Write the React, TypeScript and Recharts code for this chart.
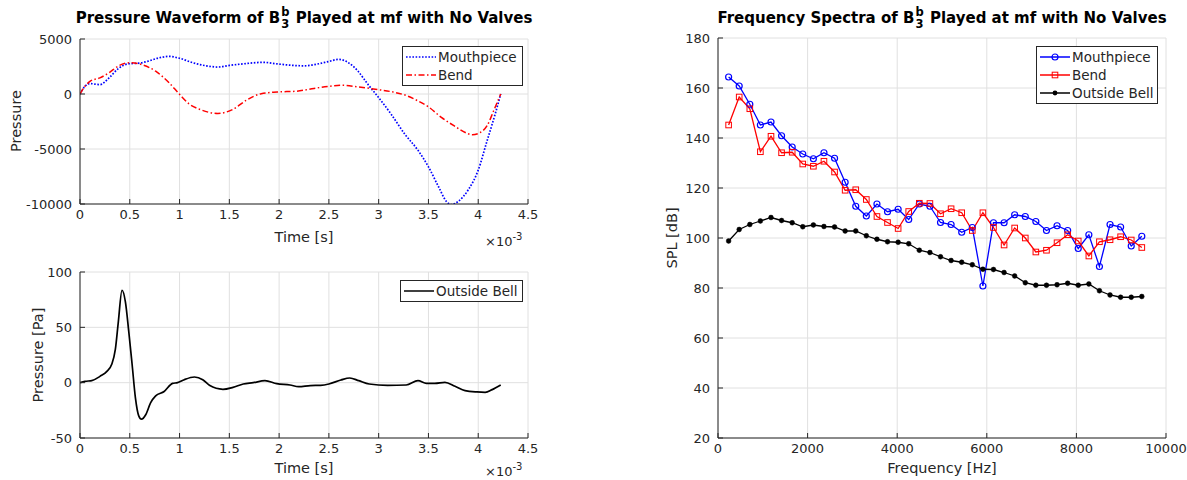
import React from 'react';
import { LineChart, Line, XAxis, YAxis, CartesianGrid } from 'recharts';

const FONT = '"DejaVu Sans", Verdana, sans-serif';
const TXT = '#262626';
const GRID = '#e0e0e0';
const BLUE = '#0000ff';
const RED = '#ff0000';
const BLACK = '#000000';

// ---------- waveform (time in ms, axis shows x10^-3 s) ----------
const mouthpieceTime = [0, 0.05, 0.1, 0.2, 0.29, 0.39, 0.49, 0.59, 0.69, 0.79, 0.895, 1.0, 1.13, 1.27, 1.385, 1.5, 1.64, 1.84, 1.98, 2.11, 2.25, 2.4, 2.5, 2.6, 2.686, 2.79, 2.89, 3.0, 3.125, 3.26, 3.395, 3.5, 3.6, 3.68, 3.73, 3.8, 3.9, 4.0, 4.09, 4.17, 4.226];
const mouthpiecePressure = [0, 700, 950, 850, 1450, 2350, 2750, 2800, 3000, 3280, 3420, 3250, 2850, 2560, 2450, 2600, 2740, 2880, 2740, 2620, 2560, 2750, 2960, 3150, 2900, 2100, 900, -330, -1830, -3620, -5120, -6620, -8410, -9760, -10060, -9760, -8710, -6920, -4220, -1830, 0];

const bendTime = [0, 0.05, 0.1, 0.2, 0.29, 0.39, 0.51, 0.625, 0.76, 0.895, 1.0, 1.1, 1.2, 1.385, 1.54, 1.67, 1.82, 1.98, 2.18, 2.35, 2.5, 2.635, 2.79, 3.0, 3.16, 3.29, 3.395, 3.5, 3.63, 3.77, 3.87, 3.94, 4.02, 4.09, 4.155, 4.226];
const bendPressure = [0, 700, 1150, 1470, 1920, 2570, 2850, 2660, 2070, 1020, -30, -930, -1380, -1770, -1380, -570, 30, 180, 260, 510, 690, 800, 650, 390, 150, -180, -630, -1170, -2130, -2960, -3500, -3710, -3500, -2870, -1530, 0];

const bellTime = [0, 0.05, 0.118, 0.2, 0.27, 0.32, 0.355, 0.385, 0.422, 0.456, 0.49, 0.524, 0.557, 0.59, 0.618, 0.66, 0.71, 0.76, 0.845, 0.93, 0.98, 1.047, 1.15, 1.233, 1.3, 1.436, 1.537, 1.64, 1.74, 1.858, 1.976, 2.11, 2.196, 2.314, 2.416, 2.5, 2.62, 2.71, 2.8, 2.905, 3.09, 3.277, 3.395, 3.48, 3.564, 3.666, 3.767, 3.868, 3.986, 4.07, 4.14, 4.226];
const bellPressure = [0, 1.2, 1.8, 5.7, 10.2, 16.8, 30, 55, 83.5, 73, 46, 16, -14, -30, -33, -29, -18, -12, -8, -0.6, 0, 2.7, 5.1, 2.7, -2.4, -6, -4.2, -1.2, 0, 1.8, -0.9, -2.1, -3.6, -2.6, -2.4, -1.2, 2.4, 4.2, 1.8, -1.2, -2.4, -2.1, 1.8, -0.6, -0.6, 0.3, -3.3, -7.2, -8.4, -8.7, -6.3, -2.1];

const timeTicks = [0, 0.5, 1, 1.5, 2, 2.5, 3, 3.5, 4, 4.5];
const waveTicks = [-10000, -5000, 0, 5000];
const bellTicks = [-50, 0, 50, 100];

// ---------- spectra ----------
const harmonicFreq = [237, 473, 710, 946, 1183, 1419, 1656, 1892, 2129, 2365, 2602, 2838, 3075, 3311, 3548, 3784, 4021, 4257, 4494, 4730, 4967, 5203, 5440, 5676, 5913, 6149, 6386, 6622, 6859, 7095, 7332, 7568, 7805, 8041, 8278, 8514, 8751, 8987, 9224, 9460];
const mouthpieceSPL = [164.4, 160.8, 153.5, 145.2, 146.4, 140.9, 136.4, 133.6, 131.7, 134.1, 131.9, 122.3, 112.7, 108.8, 113.6, 110.5, 111.5, 107.4, 113.6, 112.7, 106.2, 105.4, 102.3, 104.2, 80.8, 106.1, 106.1, 109.3, 108.6, 106.6, 103.0, 104.9, 103.0, 95.8, 101.3, 88.6, 105.4, 104.4, 96.8, 100.7];
const bendSPL = [145.2, 156.4, 151.7, 134.5, 140.7, 134.1, 134.3, 129.6, 128.7, 130.7, 126.4, 119.1, 119.3, 115.4, 108.6, 106.2, 103.8, 110.6, 113.9, 113.8, 109.7, 111.7, 110.1, 103.0, 110.1, 104.2, 97.2, 104.0, 100.0, 94.4, 95.1, 98.1, 101.3, 98.8, 92.8, 98.5, 99.3, 100.5, 99.2, 96.2];
const outsideBellSPL = [98.8, 103.4, 105.4, 106.8, 108.2, 107.0, 106.1, 104.5, 105.2, 104.6, 104.4, 102.8, 102.8, 100.9, 99.5, 98.5, 98.3, 97.7, 95.1, 94.2, 92.5, 91.0, 90.3, 89.3, 87.5, 87.4, 86.2, 84.8, 82.1, 81.1, 81.1, 81.3, 81.9, 81.1, 81.6, 78.9, 77.2, 76.3, 76.3, 76.6];
const freqTicks = [0, 2000, 4000, 6000, 8000, 10000];
const splTicks = [20, 40, 60, 80, 100, 120, 140, 160, 180];

const mouthpieceData = mouthpieceTime.map((t, i) => ({ t, p: mouthpiecePressure[i] }));
const bendData = bendTime.map((t, i) => ({ t, p: bendPressure[i] }));
const bellData = bellTime.map((t, i) => ({ t, p: bellPressure[i] }));
const spectrumData = harmonicFreq.map((f, i) => ({ f, mp: mouthpieceSPL[i], bend: bendSPL[i], bell: outsideBellSPL[i] }));

const tickStyle = { fontFamily: FONT, fontSize: 13, fill: TXT };
const axisLine = { stroke: TXT, strokeWidth: 1 };
const tickLine = { stroke: TXT, strokeWidth: 1 };

const abs = (left: number, top: number): React.CSSProperties => ({ position: 'absolute', left, top });

function Script() {
  return (
    <span style={{ display: 'inline-block', verticalAlign: '-5px', fontSize: 11.5, lineHeight: '12px', marginLeft: 1, marginRight: 1 }}>
      <span style={{ display: 'block' }}>b</span>
      <span style={{ display: 'block' }}>3</span>
    </span>
  );
}

function Title({ cx, text1, text2 }: { cx: number; text1: string; text2: string }) {
  return (
    <div style={{ position: 'absolute', left: cx - 300, width: 600, top: 6, textAlign: 'center', fontFamily: FONT, fontWeight: 'bold', fontSize: 15, color: '#000', whiteSpace: 'nowrap', lineHeight: '24px' }}>
      {text1}<Script />{text2}
    </div>
  );
}

function AxisLabel({ cx, cy, text, rotate }: { cx: number; cy: number; text: string; rotate?: boolean }) {
  return (
    <div style={{ position: 'absolute', left: cx, top: cy, transform: `translate(-50%, -50%)${rotate ? ' rotate(-90deg)' : ''}`, fontFamily: FONT, fontSize: 14.5, color: TXT, whiteSpace: 'nowrap', lineHeight: '18px' }}>
      {text}
    </div>
  );
}

function Exponent({ right, top }: { right: number; top: number }) {
  return (
    <div style={{ position: 'absolute', left: right - 44, top, fontFamily: FONT, fontSize: 13, color: TXT, whiteSpace: 'nowrap', lineHeight: '16px' }}>
      ×10<span style={{ position: 'relative', top: -6, fontSize: 10 }}>-3</span>
    </div>
  );
}

type LegendItem = { label: string; color: string; dash?: string; marker?: 'circle' | 'square' | 'dot' };

function LegendBox({ left, top, width, items }: { left: number; top: number; width: number; items: LegendItem[] }) {
  return (
    <div style={{ position: 'absolute', left, top, width, border: '1px solid #262626', background: '#fff', padding: '1px 0', fontFamily: FONT, fontSize: 13.5, color: TXT }}>
      {items.map((it) => (
        <div key={it.label} style={{ display: 'flex', alignItems: 'center', height: 18 }}>
          <svg width={32} height={12} style={{ marginLeft: 2, marginRight: 1 }}>
            <line x1={1} y1={6} x2={31} y2={6} stroke={it.color} strokeWidth={1.5} strokeDasharray={it.dash} />
            {it.marker === 'circle' && <circle cx={16} cy={6} r={3} fill="none" stroke={it.color} strokeWidth={1.2} />}
            {it.marker === 'square' && <rect x={13.2} y={3.2} width={5.6} height={5.6} fill="none" stroke={it.color} strokeWidth={1} />}
            {it.marker === 'dot' && <circle cx={16} cy={6} r={2.4} fill={it.color} />}
          </svg>
          <span>{it.label}</span>
        </div>
      ))}
    </div>
  );
}

const squareDot = (props: any) => {
  const { cx, cy, index } = props;
  if (cx == null || cy == null) return <g key={`s-${index}`} />;
  return <rect key={`s-${index}`} x={cx - 2.8} y={cy - 2.8} width={5.6} height={5.6} fill="none" stroke={RED} strokeWidth={1} />;
};

export default function App() {
  return (
    <div style={{ position: 'absolute', left: 0, top: 0, width: 1187, height: 480, background: '#fff', overflow: 'hidden' }}>
      {/* Top-left: pressure waveform */}
      <div style={abs(0, 0)}>
        <LineChart width={560} height={250} margin={{ top: 39, right: 32, left: 20, bottom: 0 }}>
          <CartesianGrid stroke={GRID} strokeWidth={1} />
          <XAxis type="number" dataKey="t" domain={[0, 4.5]} ticks={timeTicks} allowDataOverflow height={46}
            tick={tickStyle} axisLine={axisLine} tickLine={tickLine} tickSize={-5} tickMargin={11} interval={0} />
          <YAxis type="number" domain={[-10000, 5000]} ticks={waveTicks} allowDataOverflow width={60}
            tick={tickStyle} axisLine={axisLine} tickLine={tickLine} tickSize={-5} tickMargin={13} interval={0} />
          <Line data={mouthpieceData} dataKey="p" type="monotone" stroke={BLUE} strokeWidth={1.7} strokeDasharray="1.6 1.6" dot={false} isAnimationActive={false} name="Mouthpiece" />
          <Line data={bendData} dataKey="p" type="monotone" stroke={RED} strokeWidth={1.5} strokeDasharray="6 2.5 1.5 2.5" dot={false} isAnimationActive={false} name="Bend" />
        </LineChart>
      </div>

      {/* Bottom-left: outside bell waveform */}
      <div style={abs(0, 240)}>
        <LineChart width={560} height={240} margin={{ top: 32, right: 32, left: 20, bottom: 0 }}>
          <CartesianGrid stroke={GRID} strokeWidth={1} />
          <XAxis type="number" dataKey="t" domain={[0, 4.5]} ticks={timeTicks} allowDataOverflow height={42}
            tick={tickStyle} axisLine={axisLine} tickLine={tickLine} tickSize={-5} tickMargin={11} interval={0} />
          <YAxis type="number" domain={[-50, 100]} ticks={bellTicks} allowDataOverflow width={60}
            tick={tickStyle} axisLine={axisLine} tickLine={tickLine} tickSize={-5} tickMargin={13} interval={0} />
          <Line data={bellData} dataKey="p" type="monotone" stroke={BLACK} strokeWidth={1.7} dot={false} isAnimationActive={false} name="Outside Bell" />
        </LineChart>
      </div>

      {/* Right: spectra */}
      <div style={abs(600, 0)}>
        <LineChart width={587} height={480} data={spectrumData} margin={{ top: 38, right: 21, left: 58, bottom: 0 }}>
          <CartesianGrid stroke={GRID} strokeWidth={1} />
          <XAxis type="number" dataKey="f" domain={[0, 10000]} ticks={freqTicks} allowDataOverflow height={42}
            tick={tickStyle} axisLine={axisLine} tickLine={tickLine} tickSize={-5} tickMargin={11} interval={0} />
          <YAxis type="number" domain={[20, 180]} ticks={splTicks} allowDataOverflow width={60}
            tick={tickStyle} axisLine={axisLine} tickLine={tickLine} tickSize={-5} tickMargin={13} interval={0} />
          <Line dataKey="mp" type="linear" stroke={BLUE} strokeWidth={1.3} dot={{ r: 3, fill: 'none', stroke: BLUE, strokeWidth: 1.2 }} isAnimationActive={false} name="Mouthpiece" />
          <Line dataKey="bend" type="linear" stroke={RED} strokeWidth={1.3} dot={squareDot} isAnimationActive={false} name="Bend" />
          <Line dataKey="bell" type="linear" stroke={BLACK} strokeWidth={1.3} dot={{ r: 2.4, fill: BLACK, stroke: BLACK, strokeWidth: 0.5 }} isAnimationActive={false} name="Outside Bell" />
        </LineChart>
      </div>

      {/* Titles */}
      <Title cx={304} text1="Pressure Waveform of B" text2=" Played at mf with No Valves" />
      <Title cx={942} text1="Frequency Spectra of B" text2=" Played at mf with No Valves" />

      {/* Axis labels */}
      <AxisLabel cx={16} cy={121} text="Pressure" rotate />
      <AxisLabel cx={304} cy={237} text="Time [s]" />
      <AxisLabel cx={38} cy={355} text="Pressure [Pa]" rotate />
      <AxisLabel cx={304} cy={468} text="Time [s]" />
      <AxisLabel cx={672} cy={238} text="SPL [dB]" rotate />
      <AxisLabel cx={942} cy={468} text="Frequency [Hz]" />

      <Exponent right={529} top={234} />
      <Exponent right={529} top={464} />

      {/* Legends */}
      <LegendBox left={402} top={46} width={119} items={[
        { label: 'Mouthpiece', color: BLUE, dash: '1.6 1.6' },
        { label: 'Bend', color: RED, dash: '6 2.5 1.5 2.5' },
      ]} />
      <LegendBox left={400} top={280} width={121} items={[
        { label: 'Outside Bell', color: BLACK },
      ]} />
      <LegendBox left={1036} top={46} width={120} items={[
        { label: 'Mouthpiece', color: BLUE, marker: 'circle' },
        { label: 'Bend', color: RED, marker: 'square' },
        { label: 'Outside Bell', color: BLACK, marker: 'dot' },
      ]} />
    </div>
  );
}
